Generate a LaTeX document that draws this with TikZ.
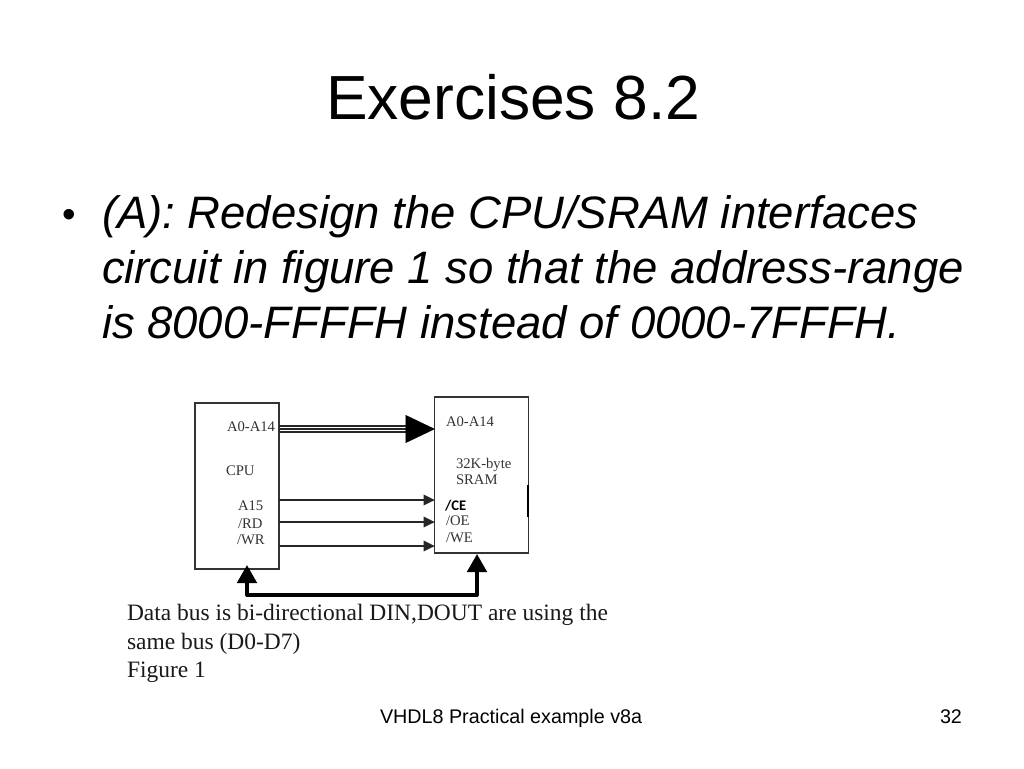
\documentclass[tikz,border=0pt]{standalone}
\usepackage{fontspec}
\setmainfont{Liberation Sans}
\newfontfamily\figfont{Liberation Serif}
\newfontfamily\cefont{Carlito}
\usetikzlibrary{arrows.meta}
\tikzset{
   txt/.style={anchor=base west,inner sep=0pt,outer sep=0pt},
   lab/.style={txt,font=\figfont\fontsize{11}{13}\selectfont,text=black!80},
   captxt/.style={txt,font=\figfont\fontsize{17.6}{21}\selectfont,text=black!90},
   body/.style={txt,font=\itshape\fontsize{34.1}{41}\selectfont},
   foot/.style={txt,font=\fontsize{14.8}{18}\selectfont},
   boxx/.style={draw=black!80,line width=0.9pt,inner sep=0pt,outer sep=0pt},
   sig/.style={draw=black!85,line width=1pt,-{Triangle[length=8.5pt,width=8pt]}},
   addr/.style={draw=black!85,line width=1.1pt},
   bus/.style={draw=black,line width=2.8pt,-{Triangle[length=13.5pt,width=14.5pt]}}
}
\begin{document}
\begin{tikzpicture}[x=0.75pt,y=-0.75pt]
      \useasboundingbox (0,0) rectangle (1024,768);
      % title and text
      \node[txt,font=\fontsize{46.75}{56}\selectfont] (title) at (326,119) {Exercises 8.2};
      \node[txt,font=\fontsize{29}{35}\selectfont] (dot) at (62,227) {•};
      \node[body] (line1) at (102,228.5) {(A): Redesign the CPU/SRAM interfaces};
      \node[body] (line2) at (102,283.5) {circuit in figure 1 so that the address-range};
      \node[body] (line3) at (102,338.5) {is 8000-FFFFH instead of 0000-7FFFH.};
      % the two boxes
      \node[boxx,minimum width=63pt,minimum height=124.5pt] (cpu) at (237,486) {};
      \node[boxx,minimum width=70pt,minimum height=117pt] (sram) at (481.5,475) {};
      \draw[line width=1.8pt] (sram.east |- 0,485) -- (sram.east |- 0,517);
      % labels
      \node[lab] (cpuaddr) at (227,431) {A0-A14};
      \node[lab] (cpuname) at (226,475) {CPU};
      \node[lab] (cpuhigh) at (238,510) {A15};
      \node[lab] (cpurd) at (238,528) {/RD};
      \node[lab] (cpuwr) at (237,544) {/WR};
      \node[lab] (sramaddr) at (446,426) {A0-A14};
      \node[lab] (sramsize) at (456,468) {32K-byte};
      \node[lab] (sramname) at (456,484) {SRAM};
      \node[lab,font=\cefont\bfseries\fontsize{11}{13}\selectfont,text=black] (sramce) at (445,510) {/CE};
      \node[lab] (sramoe) at (446,525) {/OE};
      \node[lab] (sramwe) at (446,542) {/WE};
      % address lines
      \draw[addr] (cpu.east |- 0,426) -- (410,426);
      \draw[addr] (cpu.east |- 0,429) -- (410,429);
      \draw[addr] (cpu.east |- 0,432) -- (410,432);
      \coordinate (addrend) at (sram.west |- 0,429);
      \coordinate (addrstart) at (405,429);
      \draw[-{Triangle[length=22pt,width=21pt]},line width=0.1pt] (addrstart) -- (addrend);
      % control lines
      \draw[sig] (cpu.east |- 0,500) -- (sram.west |- 0,500);
      \draw[sig] (cpu.east |- 0,522) -- (sram.west |- 0,522);
      \draw[sig] (cpu.east |- 0,546) -- (sram.west |- 0,546);
      % data bus
      \coordinate (buscpu) at (247,565);
      \coordinate (bussram) at (477,554);
      \coordinate (busleft) at (247,595);
      \coordinate (busright) at (477,595);
      \draw[bus] (busleft) -- (buscpu);
      \draw[bus] (busright) -- (bussram);
      \draw[draw=black,line width=2.8pt,line cap=round] (busleft) -- (busright);
      % caption
      \node[captxt] (caption1) at (127,620) {Data bus is bi-directional DIN,DOUT are using the};
      \node[captxt] (caption2) at (127,649) {same bus (D0-D7)};
      \node[captxt] (caption3) at (127,677) {Figure 1};
      % footer
      \node[foot] (footer) at (380,723.5) {VHDL8 Practical example v8a};
      \node[foot] (pagenum) at (940,723.5) {32};
   \end{tikzpicture}
\end{document}
